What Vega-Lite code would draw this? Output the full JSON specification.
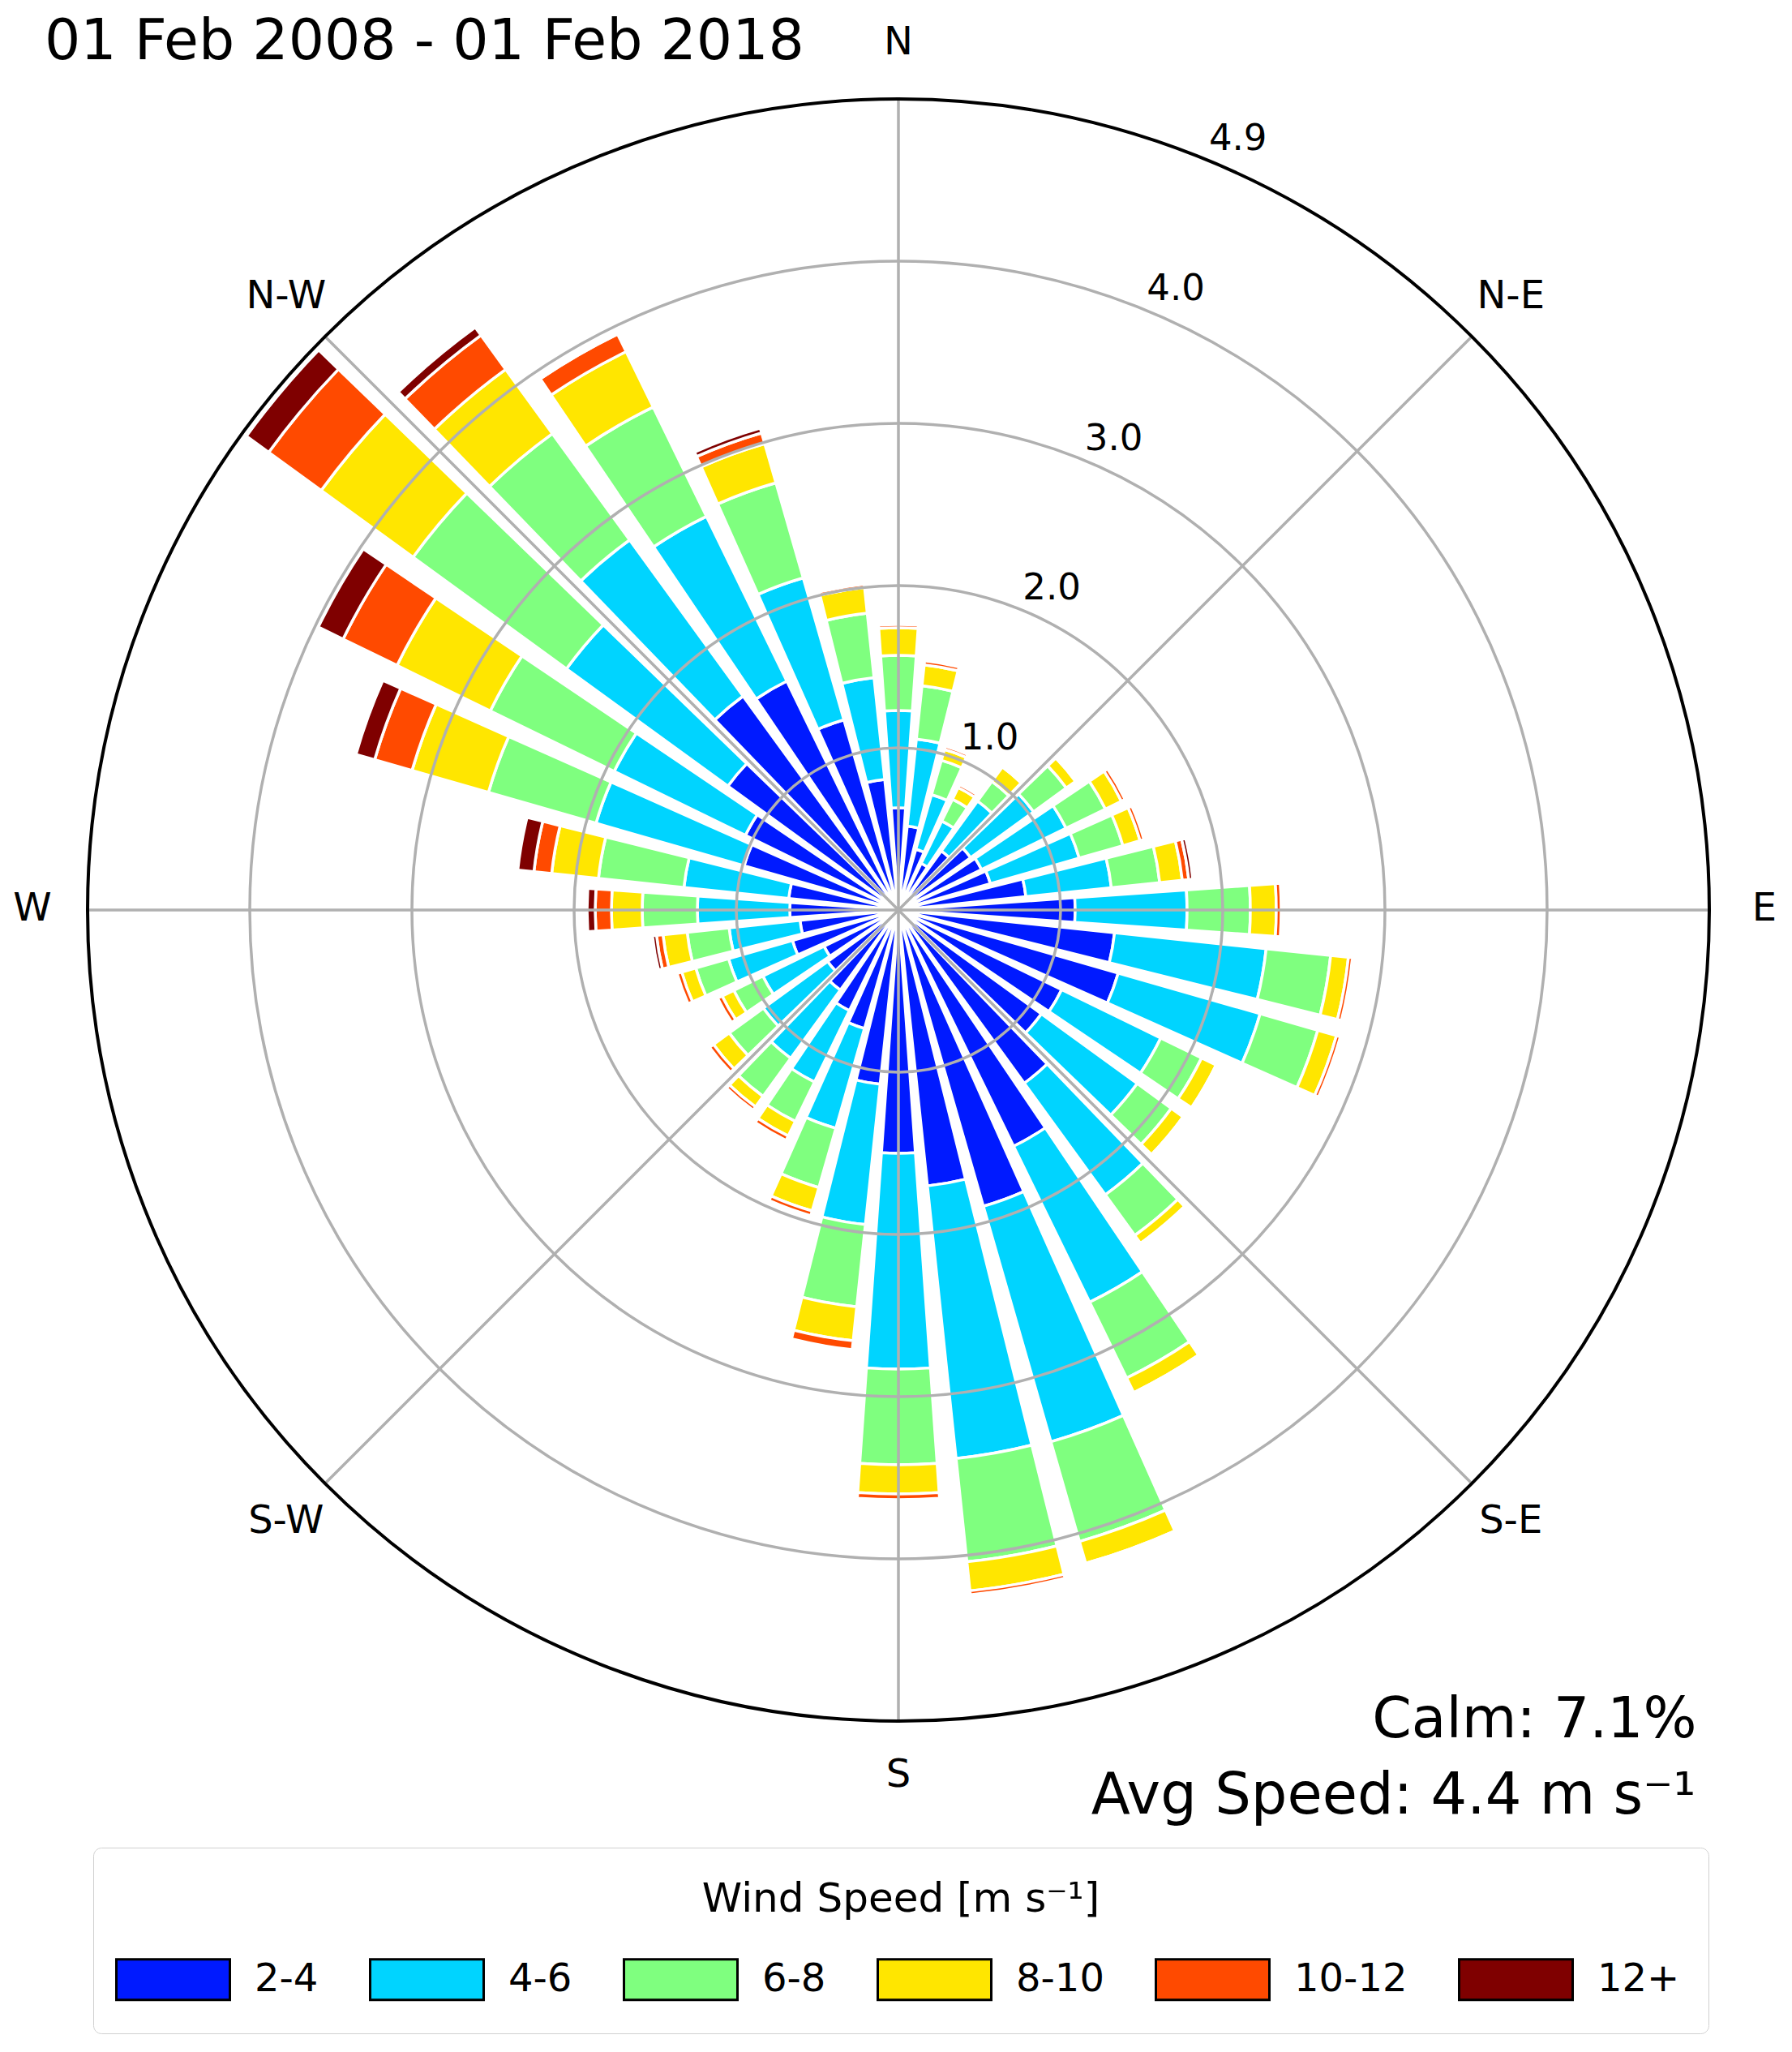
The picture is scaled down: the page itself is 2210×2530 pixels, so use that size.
{"$schema":"https://vega.github.io/schema/vega-lite/v6.json","width":2000,"height":2000,"autosize":"none","padding":{"left":108,"top":122,"right":102,"bottom":408},"background":"white",
"config":{"view":{"stroke":null},"font":"DejaVu Sans"},
"title":{"text":"01 Feb 2008 - 01 Feb 2018","anchor":"start","frame":"group","align":"left","baseline":"alphabetic","offset":-114,"dx":-53,"fontSize":69.7,"fontWeight":"normal","font":"DejaVu Sans","color":"black"},
"layer":[
{"data":{"values":[
{"dir":0,"from":-4,"to":4,"speed":"2-4","value":0.63},{"dir":0,"from":-4,"to":4,"speed":"4-6","value":0.60},{"dir":0,"from":-4,"to":4,"speed":"6-8","value":0.34},{"dir":0,"from":-4,"to":4,"speed":"8-10","value":0.17},{"dir":0,"from":-4,"to":4,"speed":"10-12","value":0.02},
{"dir":10,"from":6,"to":14,"speed":"2-4","value":0.52},{"dir":10,"from":6,"to":14,"speed":"4-6","value":0.54},{"dir":10,"from":6,"to":14,"speed":"6-8","value":0.33},{"dir":10,"from":6,"to":14,"speed":"8-10","value":0.13},{"dir":10,"from":6,"to":14,"speed":"10-12","value":0.025},
{"dir":20,"from":16,"to":24,"speed":"2-4","value":0.39},{"dir":20,"from":16,"to":24,"speed":"4-6","value":0.35},{"dir":20,"from":16,"to":24,"speed":"6-8","value":0.22},{"dir":20,"from":16,"to":24,"speed":"8-10","value":0.07},{"dir":20,"from":16,"to":24,"speed":"10-12","value":0.02},
{"dir":30,"from":26,"to":34,"speed":"2-4","value":0.32},{"dir":30,"from":26,"to":34,"speed":"4-6","value":0.29},{"dir":30,"from":26,"to":34,"speed":"6-8","value":0.15},{"dir":30,"from":26,"to":34,"speed":"8-10","value":0.08},{"dir":30,"from":26,"to":34,"speed":"10-12","value":0.02},
{"dir":40,"from":36,"to":44,"speed":"2-4","value":0.45},{"dir":40,"from":36,"to":44,"speed":"4-6","value":0.38},{"dir":40,"from":36,"to":44,"speed":"6-8","value":0.15},{"dir":40,"from":36,"to":44,"speed":"8-10","value":0.11},{"dir":40,"from":36,"to":44,"speed":"10-12","value":0.015},
{"dir":50,"from":46,"to":54,"speed":"2-4","value":0.55},{"dir":50,"from":46,"to":54,"speed":"4-6","value":0.48},{"dir":50,"from":46,"to":54,"speed":"6-8","value":0.25},{"dir":50,"from":46,"to":54,"speed":"8-10","value":0.07},{"dir":50,"from":46,"to":54,"speed":"10-12","value":0.015},
{"dir":60,"from":56,"to":64,"speed":"2-4","value":0.57},{"dir":60,"from":56,"to":64,"speed":"4-6","value":0.58},{"dir":60,"from":56,"to":64,"speed":"6-8","value":0.27},{"dir":60,"from":56,"to":64,"speed":"8-10","value":0.11},{"dir":60,"from":56,"to":64,"speed":"10-12","value":0.025},
{"dir":70,"from":66,"to":74,"speed":"2-4","value":0.59},{"dir":70,"from":66,"to":74,"speed":"4-6","value":0.57},{"dir":70,"from":66,"to":74,"speed":"6-8","value":0.28},{"dir":70,"from":66,"to":74,"speed":"8-10","value":0.11},{"dir":70,"from":66,"to":74,"speed":"10-12","value":0.025},
{"dir":80,"from":76,"to":84,"speed":"2-4","value":0.79},{"dir":80,"from":76,"to":84,"speed":"4-6","value":0.53},{"dir":80,"from":76,"to":84,"speed":"6-8","value":0.30},{"dir":80,"from":76,"to":84,"speed":"8-10","value":0.14},{"dir":80,"from":76,"to":84,"speed":"10-12","value":0.04},{"dir":80,"from":76,"to":84,"speed":"12+","value":0.025},
{"dir":90,"from":86,"to":94,"speed":"2-4","value":1.09},{"dir":90,"from":86,"to":94,"speed":"4-6","value":0.69},{"dir":90,"from":86,"to":94,"speed":"6-8","value":0.39},{"dir":90,"from":86,"to":94,"speed":"8-10","value":0.16},{"dir":90,"from":86,"to":94,"speed":"10-12","value":0.03},
{"dir":100,"from":96,"to":104,"speed":"2-4","value":1.34},{"dir":100,"from":96,"to":104,"speed":"4-6","value":0.94},{"dir":100,"from":96,"to":104,"speed":"6-8","value":0.40},{"dir":100,"from":96,"to":104,"speed":"8-10","value":0.11},{"dir":100,"from":96,"to":104,"speed":"10-12","value":0.025},
{"dir":110,"from":106,"to":114,"speed":"2-4","value":1.41},{"dir":110,"from":106,"to":114,"speed":"4-6","value":0.91},{"dir":110,"from":106,"to":114,"speed":"6-8","value":0.37},{"dir":110,"from":106,"to":114,"speed":"8-10","value":0.12},{"dir":110,"from":106,"to":114,"speed":"10-12","value":0.025},
{"dir":120,"from":116,"to":124,"speed":"2-4","value":1.12},{"dir":120,"from":116,"to":124,"speed":"4-6","value":0.68},{"dir":120,"from":116,"to":124,"speed":"6-8","value":0.28},{"dir":120,"from":116,"to":124,"speed":"8-10","value":0.10},{"dir":120,"from":116,"to":124,"speed":"10-12","value":0.01},
{"dir":130,"from":126,"to":134,"speed":"2-4","value":1.09},{"dir":130,"from":126,"to":134,"speed":"4-6","value":0.73},{"dir":130,"from":126,"to":134,"speed":"6-8","value":0.26},{"dir":130,"from":126,"to":134,"speed":"8-10","value":0.09},{"dir":130,"from":126,"to":134,"speed":"10-12","value":0.01},
{"dir":140,"from":136,"to":144,"speed":"2-4","value":1.32},{"dir":140,"from":136,"to":144,"speed":"4-6","value":0.85},{"dir":140,"from":136,"to":144,"speed":"6-8","value":0.31},{"dir":140,"from":136,"to":144,"speed":"8-10","value":0.06},{"dir":140,"from":136,"to":144,"speed":"10-12","value":0.01},
{"dir":150,"from":146,"to":154,"speed":"2-4","value":1.62},{"dir":150,"from":146,"to":154,"speed":"4-6","value":1.07},{"dir":150,"from":146,"to":154,"speed":"6-8","value":0.52},{"dir":150,"from":146,"to":154,"speed":"8-10","value":0.10},{"dir":150,"from":146,"to":154,"speed":"10-12","value":0.01},
{"dir":160,"from":156,"to":164,"speed":"2-4","value":1.90},{"dir":160,"from":156,"to":164,"speed":"4-6","value":1.51},{"dir":160,"from":156,"to":164,"speed":"6-8","value":0.64},{"dir":160,"from":156,"to":164,"speed":"8-10","value":0.14},{"dir":160,"from":156,"to":164,"speed":"10-12","value":0.01},
{"dir":170,"from":166,"to":174,"speed":"2-4","value":1.71},{"dir":170,"from":166,"to":174,"speed":"4-6","value":1.69},{"dir":170,"from":166,"to":174,"speed":"6-8","value":0.64},{"dir":170,"from":166,"to":174,"speed":"8-10","value":0.18},{"dir":170,"from":166,"to":174,"speed":"10-12","value":0.025},
{"dir":180,"from":176,"to":184,"speed":"2-4","value":1.50},{"dir":180,"from":176,"to":184,"speed":"4-6","value":1.33},{"dir":180,"from":176,"to":184,"speed":"6-8","value":0.59},{"dir":180,"from":176,"to":184,"speed":"8-10","value":0.18},{"dir":180,"from":176,"to":184,"speed":"10-12","value":0.035},
{"dir":190,"from":186,"to":194,"speed":"2-4","value":1.08},{"dir":190,"from":186,"to":194,"speed":"4-6","value":0.87},{"dir":190,"from":186,"to":194,"speed":"6-8","value":0.51},{"dir":190,"from":186,"to":194,"speed":"8-10","value":0.21},{"dir":190,"from":186,"to":194,"speed":"10-12","value":0.055},
{"dir":200,"from":196,"to":204,"speed":"2-4","value":0.76},{"dir":200,"from":196,"to":204,"speed":"4-6","value":0.64},{"dir":200,"from":196,"to":204,"speed":"6-8","value":0.38},{"dir":200,"from":196,"to":204,"speed":"8-10","value":0.15},{"dir":200,"from":196,"to":204,"speed":"10-12","value":0.03},
{"dir":210,"from":206,"to":214,"speed":"2-4","value":0.69},{"dir":210,"from":206,"to":214,"speed":"4-6","value":0.49},{"dir":210,"from":206,"to":214,"speed":"6-8","value":0.27},{"dir":210,"from":206,"to":214,"speed":"8-10","value":0.10},{"dir":210,"from":206,"to":214,"speed":"10-12","value":0.03},
{"dir":220,"from":216,"to":224,"speed":"2-4","value":0.61},{"dir":220,"from":216,"to":224,"speed":"4-6","value":0.52},{"dir":220,"from":216,"to":224,"speed":"6-8","value":0.29},{"dir":220,"from":216,"to":224,"speed":"8-10","value":0.08},{"dir":220,"from":216,"to":224,"speed":"10-12","value":0.025},
{"dir":230,"from":226,"to":234,"speed":"2-4","value":0.54},{"dir":230,"from":226,"to":234,"speed":"4-6","value":0.49},{"dir":230,"from":226,"to":234,"speed":"6-8","value":0.26},{"dir":230,"from":226,"to":234,"speed":"8-10","value":0.12},{"dir":230,"from":226,"to":234,"speed":"10-12","value":0.03},
{"dir":240,"from":236,"to":244,"speed":"2-4","value":0.51},{"dir":240,"from":236,"to":244,"speed":"4-6","value":0.42},{"dir":240,"from":236,"to":244,"speed":"6-8","value":0.20},{"dir":240,"from":236,"to":244,"speed":"8-10","value":0.08},{"dir":240,"from":236,"to":244,"speed":"10-12","value":0.03},
{"dir":250,"from":246,"to":254,"speed":"2-4","value":0.68},{"dir":250,"from":246,"to":254,"speed":"4-6","value":0.41},{"dir":250,"from":246,"to":254,"speed":"6-8","value":0.21},{"dir":250,"from":246,"to":254,"speed":"8-10","value":0.09},{"dir":250,"from":246,"to":254,"speed":"10-12","value":0.03},
{"dir":260,"from":256,"to":264,"speed":"2-4","value":0.61},{"dir":260,"from":256,"to":264,"speed":"4-6","value":0.44},{"dir":260,"from":256,"to":264,"speed":"6-8","value":0.26},{"dir":260,"from":256,"to":264,"speed":"8-10","value":0.15},{"dir":260,"from":256,"to":264,"speed":"10-12","value":0.04},{"dir":260,"from":256,"to":264,"speed":"12+","value":0.025},
{"dir":270,"from":266,"to":274,"speed":"2-4","value":0.67},{"dir":270,"from":266,"to":274,"speed":"4-6","value":0.57},{"dir":270,"from":266,"to":274,"speed":"6-8","value":0.34},{"dir":270,"from":266,"to":274,"speed":"8-10","value":0.19},{"dir":270,"from":266,"to":274,"speed":"10-12","value":0.10},{"dir":270,"from":266,"to":274,"speed":"12+","value":0.05},
{"dir":280,"from":276,"to":284,"speed":"2-4","value":0.68},{"dir":280,"from":276,"to":284,"speed":"4-6","value":0.65},{"dir":280,"from":276,"to":284,"speed":"6-8","value":0.53},{"dir":280,"from":276,"to":284,"speed":"8-10","value":0.29},{"dir":280,"from":276,"to":284,"speed":"10-12","value":0.11},{"dir":280,"from":276,"to":284,"speed":"12+","value":0.10},
{"dir":290,"from":286,"to":294,"speed":"2-4","value":0.99},{"dir":290,"from":286,"to":294,"speed":"4-6","value":0.95},{"dir":290,"from":286,"to":294,"speed":"6-8","value":0.69},{"dir":290,"from":286,"to":294,"speed":"8-10","value":0.49},{"dir":290,"from":286,"to":294,"speed":"10-12","value":0.24},{"dir":290,"from":286,"to":294,"speed":"12+","value":0.12},
{"dir":300,"from":296,"to":304,"speed":"2-4","value":1.05},{"dir":300,"from":296,"to":304,"speed":"4-6","value":0.90},{"dir":300,"from":296,"to":304,"speed":"6-8","value":0.85},{"dir":300,"from":296,"to":304,"speed":"8-10","value":0.64},{"dir":300,"from":296,"to":304,"speed":"10-12","value":0.37},{"dir":300,"from":296,"to":304,"speed":"12+","value":0.17},
{"dir":310,"from":306,"to":314,"speed":"2-4","value":1.30},{"dir":310,"from":306,"to":314,"speed":"4-6","value":1.23},{"dir":310,"from":306,"to":314,"speed":"6-8","value":1.17},{"dir":310,"from":306,"to":314,"speed":"8-10","value":0.70},{"dir":310,"from":306,"to":314,"speed":"10-12","value":0.40},{"dir":310,"from":306,"to":314,"speed":"12+","value":0.17},
{"dir":320,"from":316,"to":324,"speed":"2-4","value":1.63},{"dir":320,"from":316,"to":324,"speed":"4-6","value":1.19},{"dir":320,"from":316,"to":324,"speed":"6-8","value":0.81},{"dir":320,"from":316,"to":324,"speed":"8-10","value":0.49},{"dir":320,"from":316,"to":324,"speed":"10-12","value":0.26},{"dir":320,"from":316,"to":324,"speed":"12+","value":0.06},
{"dir":330,"from":326,"to":334,"speed":"2-4","value":1.57},{"dir":330,"from":326,"to":334,"speed":"4-6","value":1.13},{"dir":330,"from":326,"to":334,"speed":"6-8","value":0.75},{"dir":330,"from":326,"to":334,"speed":"8-10","value":0.38},{"dir":330,"from":326,"to":334,"speed":"10-12","value":0.12},{"dir":330,"from":326,"to":334,"speed":"12+","value":0.01},
{"dir":340,"from":336,"to":344,"speed":"2-4","value":1.22},{"dir":340,"from":336,"to":344,"speed":"4-6","value":0.91},{"dir":340,"from":336,"to":344,"speed":"6-8","value":0.61},{"dir":340,"from":336,"to":344,"speed":"8-10","value":0.25},{"dir":340,"from":336,"to":344,"speed":"10-12","value":0.07},{"dir":340,"from":336,"to":344,"speed":"12+","value":0.03},
{"dir":350,"from":346,"to":354,"speed":"2-4","value":0.81},{"dir":350,"from":346,"to":354,"speed":"4-6","value":0.63},{"dir":350,"from":346,"to":354,"speed":"6-8","value":0.40},{"dir":350,"from":346,"to":354,"speed":"8-10","value":0.16},{"dir":350,"from":346,"to":354,"speed":"10-12","value":0.02}
]},
"transform":[{"stack":"value","groupby":["dir"],"as":["r0","r1"]}],
"mark":{"type":"arc","stroke":"white","strokeWidth":3.5},
"encoding":{
"theta":{"field":"from","type":"quantitative","scale":{"type":"linear","domain":[0,360],"range":[0,6.283185307]}},
"theta2":{"field":"to"},
"radius":{"field":"r0","type":"quantitative","scale":{"type":"linear","domain":[0,5],"range":[0,1000]}},
"radius2":{"field":"r1"},
"color":{"field":"speed","type":"nominal","scale":{"domain":["2-4","4-6","6-8","8-10","10-12","12+"],"range":["#001aff","#00d4ff","#7fff7f","#ffe600","#ff4a00","#7f0000"]},
"legend":{"orient":"none","legendX":7,"legendY":2156,"direction":"horizontal","columns":6,"title":"Wind Speed [m s⁻¹]","titleLimit":2000,"titleAnchor":"middle","titleAlign":"center","titleFontSize":50,"titleFontWeight":"normal","titleFont":"DejaVu Sans","titleColor":"black","titlePadding":51,"labelFontSize":48,"labelFont":"DejaVu Sans","labelColor":"black","labelOffset":111,"labelLimit":400,"columnPadding":57,"symbolType":"M-1.32,-1H4.28V1H-1.32Z","symbolSize":2500,"symbolStrokeColor":"black","symbolStrokeWidth":3,"fillColor":"white","strokeColor":"#d0d0d0","cornerRadius":10,"padding":35,"encode":{"title":{"update":{"dy":{"value":4}}},"symbols":{"update":{"stroke":{"value":"black"},"strokeWidth":{"value":3}}}}}}
}},
{"data":{"values":[{"ring":1},{"ring":2},{"ring":3},{"ring":4}]},"mark":{"type":"arc","fill":null,"stroke":"#b0b0b0","strokeWidth":3.5},
"encoding":{"theta":{"datum":0,"type":"quantitative"},"theta2":{"datum":360},"radius":{"field":"ring","type":"quantitative"},"radius2":{"field":"ring"}}},
{"data":{"values":[{"bearing":0},{"bearing":45},{"bearing":90},{"bearing":135},{"bearing":180},{"bearing":225},{"bearing":270},{"bearing":315}]},"mark":{"type":"arc","fill":null,"stroke":"#b0b0b0","strokeWidth":3.5},
"encoding":{"theta":{"field":"bearing","type":"quantitative"},"theta2":{"field":"bearing"},"radius":{"datum":0,"type":"quantitative"},"radius2":{"datum":5}}},
{"data":{"values":[{"ring":5}]},"mark":{"type":"arc","fill":null,"stroke":"black","strokeWidth":4},
"encoding":{"theta":{"datum":0,"type":"quantitative"},"theta2":{"datum":360},"radius":{"field":"ring","type":"quantitative"},"radius2":{"field":"ring"}}},
{"data":{"values":[{"label":"1.0","ring":1},{"label":"2.0","ring":2},{"label":"3.0","ring":3},{"label":"4.0","ring":4},{"label":"4.9","ring":5}]},"mark":{"type":"text","dx":36,"dy":-27,"align":"center","baseline":"middle","fontSize":45,"font":"DejaVu Sans","color":"black"},
"encoding":{"theta":{"datum":22.5,"type":"quantitative"},"radius":{"field":"ring","type":"quantitative"},"text":{"field":"label"}}},
{"data":{"values":[{"label":"N","bearing":0},{"label":"N-E","bearing":45},{"label":"E","bearing":90},{"label":"S-E","bearing":135},{"label":"S","bearing":180},{"label":"S-W","bearing":225},{"label":"W","bearing":270},{"label":"N-W","bearing":315}]},"mark":{"type":"text","dy":-1,"align":"center","baseline":"middle","fontSize":48,"font":"DejaVu Sans","color":"black"},
"encoding":{"theta":{"field":"bearing","type":"quantitative"},"radius":{"datum":5.34,"type":"quantitative"},"text":{"field":"label"}}},
{"data":{"values":[{"note":"Calm: 7.1%"}]},"mark":{"type":"text","dy":2,"align":"right","baseline":"alphabetic","fontSize":69.5,"font":"DejaVu Sans","color":"black"},
"encoding":{"theta":{"datum":135.95,"type":"quantitative"},"radius":{"datum":7.08,"type":"quantitative"},"text":{"field":"note"}}},
{"data":{"values":[{"note":"Avg Speed: 4.4 m s⁻¹"}]},"mark":{"type":"text","dy":-3,"align":"right","baseline":"alphabetic","fontSize":70.3,"font":"DejaVu Sans","color":"black"},
"encoding":{"theta":{"datum":138.63,"type":"quantitative"},"radius":{"datum":7.44,"type":"quantitative"},"text":{"field":"note"}}}
]}
